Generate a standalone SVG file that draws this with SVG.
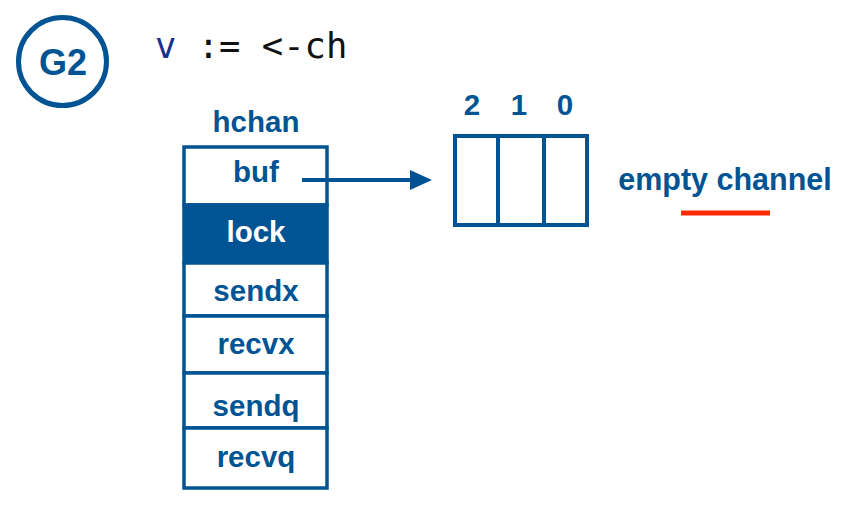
<svg xmlns="http://www.w3.org/2000/svg" width="842" height="528" viewBox="0 0 842 528">
<defs>
<style>
.b{fill:#005493;font-family:"Liberation Sans",Arial,sans-serif;font-weight:bold;font-size:29.5px;text-anchor:middle}
.cell{fill:#fff;stroke:#005493;stroke-width:3.5}
.ln{stroke:#005493;stroke-width:4;fill:none}
</style>
</defs>
<rect width="842" height="528" fill="#fff"/>
<g id="g2">
<circle cx="62.5" cy="61.5" r="44" fill="none" stroke="#005493" stroke-width="5"/>
<text x="63" y="75" class="b" style="font-size:36px">G2</text>
</g>
<g id="code">
<text x="155" y="58" font-family="'DejaVu Sans Mono',monospace" font-size="35.5" fill="#111"><tspan fill="#1a2f8f">v</tspan> := &lt;-ch</text>
</g>
<g id="hchan">
<text x="256" y="132" class="b">hchan</text>
<rect x="184" y="147" width="143" height="58" class="cell"/>
<rect x="184" y="205" width="143" height="58" fill="#005493" stroke="#005493" stroke-width="3.5"/>
<rect x="184" y="263" width="143" height="53" class="cell"/>
<rect x="184" y="316" width="143" height="57" class="cell"/>
<rect x="184" y="373" width="143" height="55" class="cell"/>
<rect x="184" y="428" width="143" height="60" class="cell"/>
<text x="256" y="182" class="b">buf</text>
<text x="256" y="242" class="b" style="fill:#fff">lock</text>
<text x="256" y="301" class="b">sendx</text>
<text x="256" y="354" class="b">recvx</text>
<text x="256" y="416" class="b">sendq</text>
<text x="256" y="467" class="b">recvq</text>
</g>
<g id="buffer">
<rect x="455" y="136" width="132" height="89" class="ln"/>
<line x1="498" y1="136" x2="498" y2="225" class="ln"/>
<line x1="544" y1="136" x2="544" y2="225" class="ln"/>
<text x="472" y="115" class="b">2</text>
<text x="519" y="115" class="b">1</text>
<text x="565" y="115" class="b">0</text>
</g>
<g id="connectors">
<line x1="302" y1="180" x2="414" y2="180" class="ln"/>
<path d="M410,170 L432,180 L410,190 z" fill="#005493"/>
</g>
<g id="label">
<text x="725" y="190" class="b" style="font-size:30.5px">empty channel</text>
<line x1="681" y1="213" x2="770" y2="213" stroke="#ff2a00" stroke-width="5"/>
</g>
</svg>
